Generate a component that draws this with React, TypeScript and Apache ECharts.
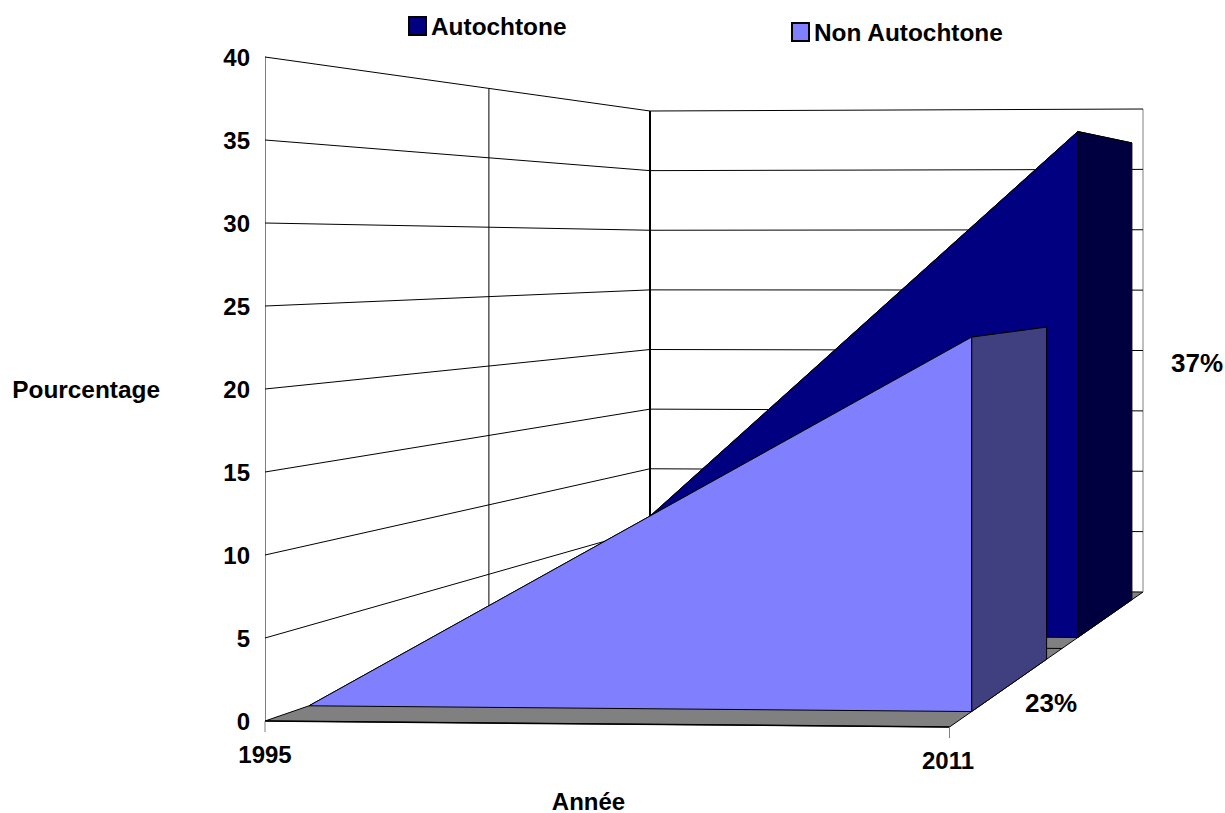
import React, { useEffect, useRef } from "react";
import * as echarts from "echarts";

const categories = ["1995", "2011"];
const autochtone = [0, 37];
const nonAutochtone = [0, 23];
const yTicks = [5, 10, 15, 20, 25, 30, 35, 40];
const shareLabels = ["37%", "23%"];

const FONT = "'Liberation Sans', Arial, sans-serif";
const GRID = { left: 265, top: 57, width: 685, height: 664 };

// Perspective of the box: floor corners and heights of the walls, on screen.
const FL = [265, 721];
const FR = [949.5, 727];
const BR = [1143, 592];
const BL = [650, 588];
const TOP_FL = 57;
const TOP_BL = 111;
const TOP_BR = 109;

const det = (a: number[], b: number[]) => a[0] * b[1] - a[1] * b[0];
const dx1 = [FR[0] - BR[0], FR[1] - BR[1]];
const dx2 = [BL[0] - BR[0], BL[1] - BR[1]];
const sum = [FL[0] - FR[0] + BR[0] - BL[0], FL[1] - FR[1] + BR[1] - BL[1]];
const G = det(sum, dx2) / det(dx1, dx2);
const H = det(dx1, sum) / det(dx1, dx2);
const Ax = FR[0] - FL[0] + G * FR[0];
const Bx = BL[0] - FL[0] + H * BL[0];
const Ay = FR[1] - FL[1] + G * FR[1];
const By = BL[1] - FL[1] + H * BL[1];
const Q = TOP_BL * (1 + H) - TOP_FL;
const P = TOP_BR * (1 + G + H) - TOP_FL - Q;

// Takes a point placed by the axes on the front plane and pushes it to depth d.
function project(pt: number[], d: number): number[] {
  const u = (pt[0] - GRID.left) / GRID.width;
  const f = (GRID.top + GRID.height - pt[1]) / GRID.height;
  const w = 1 + G * u + H * d;
  const sx = (Ax * u + Bx * d + FL[0]) / w;
  const floorY = (Ay * u + By * d + FL[1]) / w;
  const topY = (P * u + Q * d + TOP_FL) / w;
  return [sx, floorY - f * (floorY - topY)];
}

const line = (a: number[], b: number[], stroke = "#000", lineWidth = 1) => ({
  type: "line",
  shape: { x1: a[0], y1: a[1], x2: b[0], y2: b[1] },
  style: { stroke, lineWidth },
});
const poly = (points: number[][], fill: string, stroke = "#000", lineWidth = 1) => ({
  type: "polygon",
  shape: { points },
  style: { fill, stroke, lineWidth },
});

function areaSeries(
  name: string,
  values: number[],
  d1: number,
  d2: number,
  front: string,
  side: string
) {
  return {
    type: "custom",
    name,
    coordinateSystem: "cartesian2d",
    itemStyle: { color: front, borderColor: "#000", borderWidth: 1 },
    encode: { x: 0, y: 1 },
    data: values.map((v, i) => [i, v]),
    renderItem: (params: any, api: any) => {
      const i = params.dataIndex;
      if (i === 0) return null;
      const prevTop = api.coord([i - 1, values[i - 1]]);
      const prevBase = api.coord([i - 1, 0]);
      const top = api.coord([i, values[i]]);
      const base = api.coord([i, 0]);
      return {
        type: "group",
        children: [
          poly([project(prevTop, d1), project(top, d1), project(top, d2), project(prevTop, d2)], side),
          poly([project(top, d1), project(top, d2), project(base, d2), project(base, d1)], side),
          poly([project(prevTop, d1), project(top, d1), project(base, d1), project(prevBase, d1)], front),
        ],
      };
    },
  };
}

export default function App() {
  const ref = useRef<HTMLDivElement>(null);
  useEffect(() => {
    document.body.style.margin = "0";
    const chart = echarts.init(ref.current!, null, { renderer: "svg" });
    const textBase = { fontFamily: FONT, fontWeight: "bold" as const, color: "#000" };
    chart.setOption({
      animation: false,
      backgroundColor: "#fff",
      grid: { ...GRID, outerBoundsMode: "none", containLabel: false },
      legend: [
        {
          data: ["Autochtone"],
          left: 403,
          top: 9,
          icon: "rect",
          itemWidth: 17,
          itemHeight: 18,
          selectedMode: false,
          textStyle: { ...textBase, fontSize: 24.4 },
        },
        {
          data: ["Non Autochtone"],
          left: 786,
          top: 15,
          icon: "rect",
          itemWidth: 17,
          itemHeight: 18,
          selectedMode: false,
          textStyle: { ...textBase, fontSize: 24.4 },
        },
      ],
      xAxis: {
        type: "category",
        data: categories,
        boundaryGap: false,
        axisLine: { show: false },
        axisTick: { show: false },
        splitLine: { show: false },
        name: "Année",
        nameLocation: "middle",
        nameGap: 72,
        nameTextStyle: { ...textBase, fontSize: 24, lineHeight: 16, padding: [0, 38, 0, 0] },
        axisLabel: {
          margin: 21,
          interval: 0,
          formatter: (v: string) => (v === categories[0] ? `{a|${v}}` : `{b|${v}}`),
          rich: {
            a: { ...textBase, fontSize: 24 },
            b: { ...textBase, fontSize: 24, padding: [6, 4, 0, 0] },
          },
        },
      },
      yAxis: {
        type: "value",
        min: 0,
        max: 40,
        interval: 5,
        axisLine: { show: true, lineStyle: { color: "#808080", width: 1 } },
        axisTick: { show: false },
        splitLine: { show: false },
        axisLabel: { ...textBase, fontSize: 24, margin: 15 },
        name: "Pourcentage",
        nameLocation: "middle",
        nameRotate: 0,
        nameGap: 105,
        nameTextStyle: { ...textBase, fontSize: 24.4, padding: [4, 0, 0, 0] },
      },
      graphic: [
        { type: "text", left: 1171, top: 350, style: { text: shareLabels[0], font: `bold 26px ${FONT}`, fill: "#000" } },
        { type: "text", left: 1025, top: 690, style: { text: shareLabels[1], font: `bold 26px ${FONT}`, fill: "#000" } },
      ],
      series: [
        {
          type: "custom",
          coordinateSystem: "cartesian2d",
          encode: { x: 0, y: 1 },
          data: [[0, 0]],
          renderItem: (_p: any, api: any) => {
            const b0 = api.coord([0, 0]);
            const b1 = api.coord([1, 0]);
            const t0 = api.coord([0, 40]);
            const t1 = api.coord([1, 40]);
            const fl = project(b0, 0);
            const fr = project(b1, 0);
            return {
              type: "group",
              children: [
                poly([fl, fr, project(b1, 1), project(b0, 1)], "#808080"),
                line(fl, fr, "#000", 1.5),
                line(project(b0, 0.5), project(b1, 0.5)),
                line(project(b0, 0.5), project(t0, 0.5)),
                line(project(b0, 1), project(t0, 1), "#000", 2),
                line(project(b1, 1), project(t1, 1), "#808080"),
                line(fl, [fl[0], fl[1] + 11], "#808080"),
                line(fr, [fr[0], fr[1] + 11], "#808080"),
              ],
            };
          },
        },
        {
          type: "custom",
          coordinateSystem: "cartesian2d",
          encode: { x: 0, y: 1 },
          data: yTicks.map((v) => [0, v]),
          renderItem: (params: any, api: any) => {
            const v = yTicks[params.dataIndex];
            const a = api.coord([0, v]);
            const b = api.coord([1, v]);
            return {
              type: "polyline",
              shape: { points: [project(a, 0), project(a, 1), project(b, 1)] },
              style: { stroke: "#000", lineWidth: 1, fill: "none" },
            };
          },
        },
        areaSeries("Autochtone", autochtone, 0.586, 0.922, "#000080", "#000040"),
        areaSeries("Non Autochtone", nonAutochtone, 0.085, 0.42, "#8080FF", "#404080"),
      ],
    });
    return () => chart.dispose();
  }, []);
  return <div ref={ref} style={{ position: "fixed", left: 0, top: 0, width: 1225, height: 813 }} />;
}
